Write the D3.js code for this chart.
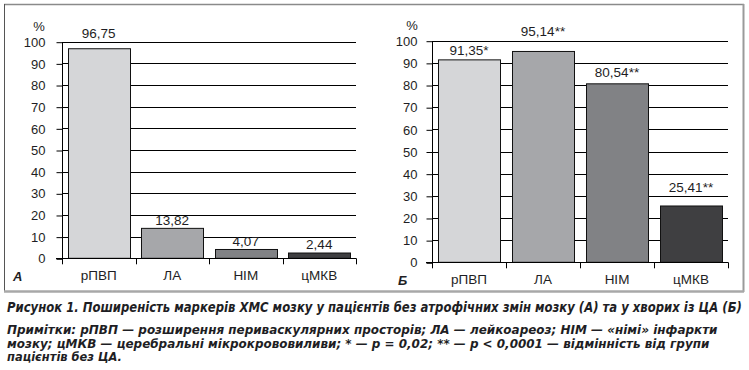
<!DOCTYPE html>
<html>
<head>
<meta charset="utf-8">
<script src="https://cdn.jsdelivr.net/npm/d3@7"></script>
<style>
  body { margin: 0; background: #fff; }
  svg text { font-family: "Liberation Sans", Arial, sans-serif; fill: #1e1e24; }
  .cap { font-family: "Liberation Sans Narrow", "DejaVu Sans Condensed", "Liberation Sans", sans-serif; font-weight: bold; font-style: italic; }
</style>
</head>
<body>
<script>
const categories = ['рПВП', 'ЛА', 'НІМ', 'цМКВ'];
const valuesA = [96.75, 13.82, 4.07, 2.44];
const valuesB = [91.35, 95.14, 80.54, 25.41];
const labelsA = ['96,75', '13,82', '4,07', '2,44'];
const labelsB = ['91,35*', '95,14**', '80,54**', '25,41**'];
const yTicks = [0, 10, 20, 30, 40, 50, 60, 70, 80, 90, 100];
const caption = 'Рисунок 1. Поширеність маркерів ХМС мозку у пацієнтів без атрофічних змін мозку (А) та у хворих із ЦА (Б)';
const notes = [
  'Примітки: рПВП — розширення периваскулярних просторів; ЛА — лейкоареоз; НІМ — «німі» інфаркти',
  'мозку; цМКВ — церебральні мікрокрововиливи; * — р = 0,02; ** — р < 0,0001 — відмінність від групи',
  'пацієнтів без ЦА.'
];

const colors = ['#d5d6d8', '#a6a7aa', '#818285', '#3f3f41'];

const svg = d3.select('body')
              .append('svg')
                .attr('width', 749)
                .attr('height', 370);

// outer frame
svg.append('line').attr('x1', 4).attr('x2', 744).attr('y1', 4.5).attr('y2', 4.5)
   .attr('stroke', '#8a8a8a').attr('stroke-width', 1.5);
svg.append('line').attr('x1', 4.5).attr('x2', 4.5).attr('y1', 4).attr('y2', 292)
   .attr('stroke', '#555').attr('stroke-width', 1);
svg.append('line').attr('x1', 743.5).attr('x2', 743.5).attr('y1', 4).attr('y2', 292)
   .attr('stroke', '#9a9a9a').attr('stroke-width', 2);
svg.append('line').attr('x1', 4).attr('x2', 744).attr('y1', 291.5).attr('y2', 291.5)
   .attr('stroke', '#a8a8a8').attr('stroke-width', 2.5);

function drawPanel(p) {
    const g = svg.append('g');
    const y = d3.scaleLinear().domain([0, 100]).range([p.y0, p.y100]);
    const x = d3.scaleBand().domain(categories).range([p.x0, p.x1])
                .paddingInner(0.16).paddingOuter(0.08);
    const step = x.step();

    // gridlines
    g.selectAll('line.grid')
        .data(yTicks.filter(d => d > 0))
        .enter()
            .append('line')
                .attr('x1', p.x0).attr('x2', p.x1)
                .attr('y1', d => Math.round(y(d)) + 0.5)
                .attr('y2', d => Math.round(y(d)) + 0.5)
                .attr('stroke', '#000').attr('stroke-width', 1);

    // bars
    g.selectAll('rect')
        .data(p.values)
        .enter()
            .append('rect')
                .attr('x', (d, i) => Math.round(x(categories[i])) + 0.5)
                .attr('y', d => y(d))
                .attr('width', Math.round(x.bandwidth()))
                .attr('height', d => p.y0 - y(d))
                .attr('fill', (d, i) => colors[i])
                .attr('stroke', '#111').attr('stroke-width', 1);

    // y axis
    const yAxis = d3.axisLeft(y).tickValues(yTicks).tickSize(6).tickPadding(p.pad);
    const ya = g.append('g').attr('transform', `translate(${p.x0 + 0.5},0.5)`).call(yAxis);
    ya.select('.domain').attr('stroke', '#000').attr('d', `M0,${p.y100}V${p.y0}`);
    ya.selectAll('.tick line').attr('stroke', '#000');
    ya.selectAll('.tick text').attr('font-size', 13).attr('fill', '#1e1e24')
      .attr('font-family', '"Liberation Sans", Arial, sans-serif');

    // x axis with boundary ticks
    g.append('line').attr('x1', p.x0 - 6).attr('x2', p.x1)
        .attr('y1', Math.round(p.y0) + 0.5).attr('y2', Math.round(p.y0) + 0.5)
        .attr('stroke', '#000');
    g.selectAll('line.xt')
        .data(d3.range(categories.length + 1))
        .enter()
            .append('line')
                .attr('x1', i => Math.round(p.x0 + i * step) + 0.5)
                .attr('x2', i => Math.round(p.x0 + i * step) + 0.5)
                .attr('y1', p.y0).attr('y2', p.y0 + 6)
                .attr('stroke', '#000');

    g.selectAll('text.cat')
        .data(categories)
        .enter()
            .append('text')
                .attr('x', d => x(d) + x.bandwidth() / 2)
                .attr('y', p.y0 + 22)
                .attr('text-anchor', 'middle')
                .attr('font-size', 13.5)
                .text(d => d);

    // value labels
    g.selectAll('text.val')
        .data(p.values)
        .enter()
            .append('text')
                .attr('x', (d, i) => x(categories[i]) + x.bandwidth() / 2)
                .attr('y', (d, i) => y(d) - p.lift[i])
                .attr('text-anchor', 'middle')
                .attr('font-size', 13.5)
                .text((d, i) => p.labels[i]);

    g.append('text').attr('x', p.pctX).attr('y', p.y100 - 11)
        .attr('text-anchor', 'middle').attr('font-size', 13).text('%');

    g.append('text').attr('x', p.letterX).attr('y', p.y0 + 23)
        .attr('font-size', 13).attr('font-weight', 'bold').attr('font-style', 'italic')
        .text(p.letter);
}

drawPanel({ x0: 62, x1: 356, y0: 258.3, y100: 41.7, pad: 11, values: valuesA, labels: labelsA,
            lift: [11, 3, 3, 4], letter: 'А', letterX: 13, pctX: 39 });
drawPanel({ x0: 432, x1: 728, y0: 262.3, y100: 40.7, pad: 9, values: valuesB, labels: labelsB,
            lift: [5, 15, 7, 14], letter: 'Б', letterX: 398, pctX: 412 });

// caption and notes: squeeze each line horizontally to its width in the reference
function fitLine(text, x, y, size, w) {
    const t = svg.append('text').attr('class', 'cap')
        .attr('font-size', size).text(text);
    const natural = t.node().getComputedTextLength();
    t.attr('transform', `translate(${x},${y}) scale(${w / natural},1)`);
}

fitLine(caption, 7, 312, 13.5, 735);
const noteW = [711, 703, 115];
notes.forEach((d, i) => fitLine(d, 7, 334 + i * 13.5, 12.5, noteW[i]));
</script>
</body>
</html>
